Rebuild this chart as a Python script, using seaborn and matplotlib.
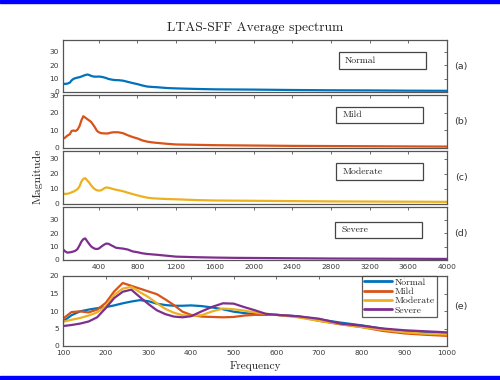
import matplotlib
matplotlib.use("Agg")
import matplotlib.pyplot as plt
from matplotlib.patches import Rectangle
import numpy as np
import pandas as pd
import seaborn as sns

# ---------------- data ----------------
freq = [30, 50, 75, 100, 120, 140, 160, 180, 200, 220, 240, 260, 280, 300, 320,
        340, 360, 380, 400, 425, 450, 475, 500, 525, 550, 575, 600, 650, 700,
        750, 800, 850, 900, 950, 1000, 1100, 1200, 1400, 1600, 1800, 2000,
        2400, 2800, 3200, 3600, 4000]

normal = [6.4, 6.0, 6.3, 7.0, 8.8, 9.9, 10.4, 10.8, 11.1, 11.6, 12.2, 12.7, 13.1,
          12.8, 12.1, 11.7, 11.5, 11.5, 11.6, 11.4, 11.0, 10.5, 9.8, 9.4, 9.1,
          8.9, 8.9, 8.5, 7.6, 6.7, 5.9, 4.9, 4.1, 3.8, 3.6, 3.0, 2.7, 2.3, 2.0,
          1.9, 1.8, 1.5, 1.3, 1.2, 1.0, 0.9]

mild = [5.2, 5.8, 7.0, 7.8, 9.7, 9.9, 9.6, 10.4, 12.3, 15.6, 18.0, 17.2, 16.4,
        15.6, 14.8, 13.3, 11.7, 9.8, 8.9, 8.4, 8.3, 8.2, 8.3, 8.7, 8.9, 8.9,
        8.9, 8.4, 7.2, 6.2, 5.4, 4.3, 3.6, 3.2, 2.9, 2.4, 2.0, 1.8, 1.6, 1.5,
        1.4, 1.2, 1.1, 1.0, 0.9, 0.8]

moderate = [6.7, 6.4, 6.5, 6.9, 7.5, 8.0, 8.7, 9.6, 11.3, 14.6, 16.4, 16.9, 15.4,
            14.0, 12.2, 10.6, 9.5, 8.8, 8.6, 8.8, 9.9, 10.7, 10.5, 10.1, 9.6,
            9.2, 8.9, 8.2, 7.2, 6.3, 5.4, 4.6, 3.9, 3.5, 3.3, 3.0, 2.8, 2.3,
            2.0, 1.9, 1.8, 1.6, 1.4, 1.3, 1.2, 1.1]

severe = [8.0, 6.5, 5.5, 5.7, 6.0, 6.4, 7.0, 8.2, 10.8, 13.7, 15.5, 16.1, 14.0,
          12.0, 10.2, 9.1, 8.4, 8.2, 8.5, 9.9, 11.2, 12.2, 12.1, 11.1, 10.2,
          9.2, 8.9, 8.5, 7.8, 6.4, 5.8, 5.0, 4.5, 4.2, 3.9, 3.2, 2.5, 2.1,
          1.8, 1.6, 1.5, 1.3, 1.1, 1.0, 0.9, 0.8]

groups = ["Normal", "Mild", "Moderate", "Severe"]
colors = ["#0072BD", "#D95319", "#EDB120", "#7E2F8E"]
panel_tags = ["(a)", "(b)", "(c)", "(d)", "(e)"]
top_xticks = [400, 800, 1200, 1600, 2000, 2400, 2800, 3200, 3600, 4000]
bottom_xticks = [100, 200, 300, 400, 500, 600, 700, 800, 900, 1000]
top_yticks = [0, 10, 20, 30]
bottom_yticks = [0, 5, 10, 15, 20]

title = "LTAS-SFF Average spectrum"
ylabel = "Magnitude"
xlabel = "Frequency"

series = [normal, mild, moderate, severe]
df = pd.concat([pd.DataFrame({"Frequency": freq, "Magnitude": v, "Group": g})
                for g, v in zip(groups, series)], ignore_index=True)

# ---------------- style ----------------
sns.set_theme(style="white")
plt.rcParams["font.family"] = ["DejaVu Sans"]
plt.rcParams["axes.unicode_minus"] = False
serif = ["cmr10", "DejaVu Serif"]
tick_col = "#3a3a3a"
spine_col = "#555555"

fig = plt.figure(figsize=(5, 3.8), dpi=100)

# blue frame strips (top / bottom)
fig.patches.append(Rectangle((0, 1 - 3 / 380), 1, 3 / 380, transform=fig.transFigure,
                             color="#0000FF", zorder=10))
fig.patches.append(Rectangle((0, 0), 1, 4 / 380, transform=fig.transFigure,
                             color="#0000FF", zorder=10))

W = 500.0
H = 380.0
left = 63 / W
width = (447 - 63) / W
top_panels = [(40, 92), (95, 148), (151, 203.5), (207, 260)]
ylims = [39, 30, 35, 39.5]
boxes = [(0.719, 0.945, 0.442, 0.775),
         (0.711, 0.937, 0.477, 0.779),
         (0.711, 0.937, 0.448, 0.766),
         (0.708, 0.936, 0.409, 0.723)]


def style_axis(ax):
    for s in ax.spines.values():
        s.set_visible(True)
        s.set_color(spine_col)
        s.set_linewidth(0.9)
    ax.tick_params(direction="in", length=2.5, width=0.6, top=True, right=True,
                   labelsize=5.4, colors=spine_col, labelcolor=tick_col, pad=3)
    ax.set_xlabel("")
    ax.set_ylabel("")


for i, (g, c) in enumerate(zip(groups, colors)):
    t, b = top_panels[i]
    ax = fig.add_axes([left, 1 - b / H, width, (b - t) / H])
    sns.lineplot(data=df[df["Group"] == g], x="Frequency", y="Magnitude",
                 color=c, linewidth=1.6, ax=ax, legend=False)
    ax.set_xlim(30, 4000)
    ax.set_ylim(0, ylims[i])
    ax.set_xticks(top_xticks)
    ax.set_yticks(top_yticks)
    style_axis(ax)
    if i < 3:
        ax.set_xticklabels([])
    x0, x1, y0, y1 = boxes[i]
    ax.add_patch(Rectangle((x0, y0), x1 - x0, y1 - y0, transform=ax.transAxes,
                           fill=False, edgecolor="#444444", linewidth=0.9))
    ax.text(x0 + 0.016, (y0 + y1) / 2, g, transform=ax.transAxes, ha="left",
            va="center", fontsize=7, family=serif, color="#222222")
    fig.text(461 / W, 1 - ((t + b) / 2) / H, panel_tags[i], ha="center",
             va="center", fontsize=6.8, color="#333333")

# bottom comparison panel
axe = fig.add_axes([left, 1 - 346 / H, width, (346 - 276) / H])
sns.lineplot(data=df, x="Frequency", y="Magnitude", hue="Group", hue_order=groups,
             palette=colors, linewidth=1.6, ax=axe)
axe.set_xlim(100, 1000)
axe.set_ylim(0, 20)
axe.set_xticks(bottom_xticks)
axe.set_yticks(bottom_yticks)
style_axis(axe)
leg = axe.legend(loc="upper right", bbox_to_anchor=((437 - 63) / 384, 1.0),
                 borderaxespad=0, frameon=True, fancybox=False,
                 prop={"family": serif, "size": 7}, handlelength=2.9,
                 handletextpad=0.3, labelspacing=0.05, borderpad=0.2)
leg.get_frame().set_edgecolor("#333333")
leg.get_frame().set_linewidth(0.9)
for line in leg.get_lines():
    line.set_linewidth(2.0)
fig.text(461 / W, 1 - 306 / H, panel_tags[4], ha="center", va="center",
         fontsize=6.8, color="#333333")

fig.text(255 / W, 1 - 28 / H, title, ha="center", va="center", fontsize=9.7,
         family=serif, color="#222222")
fig.text(38 / W, 1 - 176 / H, ylabel, ha="center", va="center", rotation=90,
         fontsize=8.5, family=serif, color="#222222")
fig.text(255 / W, 1 - 366 / H, xlabel, ha="center", va="center", fontsize=8.1,
         family=serif, color="#222222")

fig.savefig("out.png", dpi=100)
